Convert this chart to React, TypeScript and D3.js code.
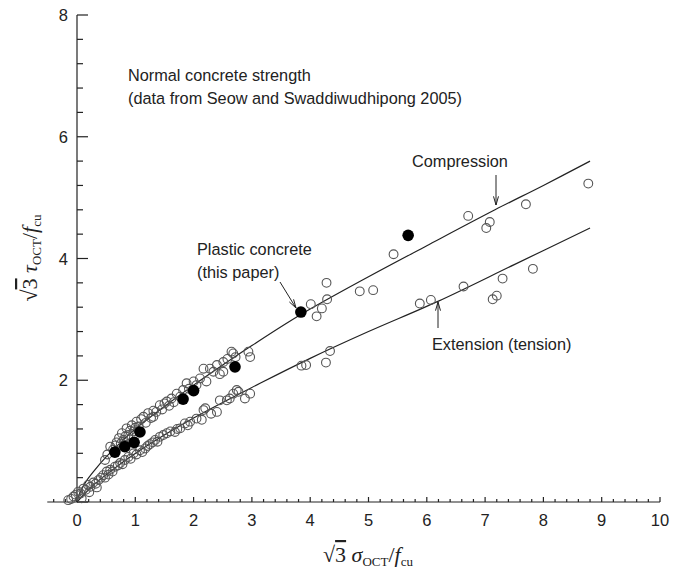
import React from "react";
import * as d3 from "d3";

const W = 673;
const H = 575;

// Compression (upper) fitted curve
const compCurve: [number, number][] = [
  [0, 0.02], [0.05, 0.15], [0.15, 0.33], [0.3, 0.52], [0.5, 0.74], [0.75, 0.98], [1, 1.2],
  [1.5, 1.57], [2, 1.92], [2.5, 2.25], [3, 2.57], [3.84, 3.08], [5, 3.7], [6, 4.21],
  [7.17, 4.8], [8, 5.2], [8.8, 5.6],
];
// Extension (lower) fitted curve
const extCurve: [number, number][] = [
  [0, 0], [0.25, 0.25], [0.5, 0.45], [1.08, 0.85], [2, 1.38], [3.14, 1.95], [4, 2.36], [5, 2.8],
  [6.2, 3.3], [7.5, 3.9], [8.8, 4.5],
];

// Open circles: compression data (Seow and Swaddiwudhipong 2005)
const compOpen: [number, number][] = [
  [0.48, 0.69], [0.52, 0.78], [0.57, 0.91], [0.62, 0.86], [0.66, 0.93], [0.68, 0.98], [0.72, 1.05],
  [0.75, 0.96], [0.77, 1.13], [0.8, 1.02], [0.83, 1.08], [0.85, 1.21], [0.88, 1.1], [0.91, 1.17],
  [0.94, 1.26], [0.97, 1.16], [1.0, 1.22], [1.02, 1.32], [1.06, 1.24], [1.1, 1.36], [1.14, 1.4],
  [1.18, 1.3], [1.22, 1.46], [1.27, 1.38], [1.31, 1.5], [1.31, 1.4], [1.36, 1.48], [1.42, 1.59],
  [1.46, 1.52], [1.5, 1.62], [1.54, 1.65], [1.58, 1.58], [1.62, 1.7], [1.66, 1.64], [1.71, 1.78],
  [1.77, 1.73], [1.82, 1.84], [1.88, 1.95], [1.92, 1.86], [2.0, 1.98], [2.05, 1.92], [2.11, 2.03],
  [2.17, 2.19], [2.22, 1.98], [2.28, 2.19], [2.34, 2.14], [2.4, 2.25], [2.45, 2.1], [2.51, 2.3],
  [2.51, 2.14], [2.58, 2.35], [2.65, 2.47], [2.68, 2.44], [2.72, 2.38], [2.94, 2.47], [2.97, 2.38],
  [4.01, 3.25], [4.11, 3.05], [4.2, 3.18], [4.29, 3.33], [4.28, 3.6], [4.85, 3.46], [5.08, 3.48],
  [5.43, 4.07], [6.71, 4.7], [7.02, 4.5], [7.08, 4.6], [7.7, 4.89], [8.77, 5.23],
];

// Open circles: extension data
const extOpen: [number, number][] = [
  [-0.15, 0.03], [-0.1, 0.05], [-0.06, 0.09], [-0.02, 0.12], [0.02, 0.17], [0.06, 0.14], [0.08, 0.06],
  [0.11, 0.22], [0.15, 0.2], [0.19, 0.28], [0.21, 0.16], [0.23, 0.25], [0.28, 0.32], [0.32, 0.3],
  [0.34, 0.24], [0.37, 0.36], [0.41, 0.4], [0.45, 0.44], [0.48, 0.4], [0.51, 0.5], [0.54, 0.45],
  [0.57, 0.53], [0.61, 0.5], [0.65, 0.58], [0.7, 0.6], [0.74, 0.64], [0.78, 0.62], [0.82, 0.69],
  [0.88, 0.74], [0.92, 0.71], [0.97, 0.8], [1.02, 0.78], [1.08, 0.85], [1.12, 0.82], [1.17, 0.88],
  [1.21, 0.92], [1.25, 0.95], [1.3, 0.98], [1.34, 1.02], [1.38, 0.99], [1.42, 1.07], [1.48, 1.1],
  [1.54, 1.13], [1.6, 1.16], [1.68, 1.15], [1.72, 1.2], [1.77, 1.21], [1.85, 1.29], [1.9, 1.26],
  [1.94, 1.32], [2.05, 1.37], [2.14, 1.35], [2.17, 1.51], [2.2, 1.54], [2.3, 1.45], [2.4, 1.48],
  [2.45, 1.67], [2.57, 1.67], [2.62, 1.7], [2.68, 1.78], [2.74, 1.84], [2.77, 1.81], [2.88, 1.7],
  [2.97, 1.78],
  [3.85, 2.24], [3.93, 2.25], [4.27, 2.29], [4.34, 2.48], [5.88, 3.26], [6.07, 3.32], [6.63, 3.54],
  [7.13, 3.33], [7.2, 3.39], [7.3, 3.67], [7.82, 3.83],
];

// Filled circles: plastic concrete (this paper)
const plastic: [number, number][] = [
  [0.65, 0.82], [0.82, 0.91], [0.98, 0.98], [1.08, 1.15], [1.82, 1.69], [2.0, 1.83], [2.71, 2.22],
  [3.84, 3.12], [5.68, 4.38],
];

const xTickLabels = [0, 1, 2, 3, 4, 5, 6, 7, 8, 9, 10];
const yTickLabels = [2, 4, 6, 8];

export default function App() {
  const x = d3.scaleLinear().domain([0, 10]).range([77, 660]);
  const y = d3.scaleLinear().domain([0, 8]).range([502, 15]);
  const line = d3
    .line<[number, number]>()
    .x((d) => x(d[0]))
    .y((d) => y(d[1]))
    .curve(d3.curveCatmullRom.alpha(0.5));

  const xMinor = d3.range(-0.4, 10.001, 0.2).map((v) => Math.round(v * 10) / 10);
  const yMinor = d3.range(0, 8.001, 0.4).map((v) => Math.round(v * 10) / 10);
  const sans = "Arial, 'Liberation Sans', sans-serif";
  const serif = "'Times New Roman', 'Liberation Serif', serif";
  const ink = "#222";

  const arrowHead = (x1: number, y1: number, x2: number, y2: number) => {
    const a = Math.atan2(y2 - y1, x2 - x1);
    const len = 9;
    const sp = 0.28;
    const p1 = [x2 - len * Math.cos(a - sp), y2 - len * Math.sin(a - sp)];
    const p2 = [x2 - len * Math.cos(a + sp), y2 - len * Math.sin(a + sp)];
    return (
      <g stroke={ink} strokeWidth={1} fill="none">
        <line x1={x1} y1={y1} x2={x2} y2={y2} />
        <polyline points={`${p1[0]},${p1[1]} ${x2},${y2} ${p2[0]},${p2[1]}`} />
      </g>
    );
  };

  return (
    <svg width={W} height={H} style={{ position: "absolute", left: 0, top: 0, background: "#fff" }}>
      {/* axes */}
      <g stroke={ink} strokeWidth={1.2}>
        <line x1={x(-0.51)} x2={x(10)} y1={y(0)} y2={y(0)} />
        <line x1={x(0)} x2={x(0)} y1={y(0)} y2={y(8)} />
        {xMinor.map((v) => {
          const major = Math.abs(v - Math.round(v)) < 1e-6;
          return <line key={"xt" + v} x1={x(v)} x2={x(v)} y1={y(0)} y2={y(0) - (major ? 5 : 3)} />;
        })}
        {yMinor.map((v) => {
          const major = Math.abs(v / 2 - Math.round(v / 2)) < 1e-6;
          return <line key={"yt" + v} x1={x(0)} x2={x(0) + (major ? 11 : 6)} y1={y(v)} y2={y(v)} />;
        })}
      </g>
      <g fontFamily={sans} fontSize={16.5} fill={ink}>
        {xTickLabels.map((v) => (
          <text key={"xl" + v} x={x(v)} y={526} textAnchor="middle">
            {v}
          </text>
        ))}
        {yTickLabels.map((v) => (
          <text key={"yl" + v} x={68} y={y(v) + 6} textAnchor="end">
            {v}
          </text>
        ))}
      </g>

      {/* fitted curves */}
      <path d={line(compCurve) || ""} fill="none" stroke={ink} strokeWidth={1.2} />
      <path d={line(extCurve) || ""} fill="none" stroke={ink} strokeWidth={1.2} />

      {/* data */}
      <g fill="none" stroke="#555" strokeWidth={1.1}>
        {compOpen.map((d, i) => (
          <circle key={"c" + i} cx={x(d[0])} cy={y(d[1])} r={4.4} />
        ))}
        {extOpen.map((d, i) => (
          <circle key={"e" + i} cx={x(d[0])} cy={y(d[1])} r={4.4} />
        ))}
      </g>
      <g fill="#000">
        {plastic.map((d, i) => (
          <circle key={"p" + i} cx={x(d[0])} cy={y(d[1])} r={5.8} />
        ))}
      </g>

      {/* annotations */}
      <g fontFamily={sans} fontSize={16.3} fill={ink}>
        <text x={128} y={81}>Normal concrete strength</text>
        <text x={128} y={104}>(data from Seow and Swaddiwudhipong 2005)</text>
        <text x={412} y={167}>Compression</text>
        <text x={197} y={255}>Plastic concrete</text>
        <text x={197} y={278}>(this paper)</text>
        <text x={432} y={350}>Extension (tension)</text>
      </g>
      {arrowHead(496, 175, 496, 205)}
      {arrowHead(280, 282, 296, 308)}
      {arrowHead(438, 328, 438, 302)}

      {/* axis titles */}
      <text x={368} y={562} textAnchor="middle" fontFamily={serif} fontSize={22} fill={ink}>
        <tspan>√</tspan>
        <tspan style={{ textDecoration: "overline" }}>3</tspan>
        <tspan fontStyle="italic"> σ</tspan>
        <tspan fontSize={13} dy={4}>OCT</tspan>
        <tspan dy={-4}>/</tspan>
        <tspan fontStyle="italic">f</tspan>
        <tspan fontSize={13} dy={4}>cu</tspan>
      </text>
      <text
        transform={`translate(37,258) rotate(-90)`}
        textAnchor="middle"
        fontFamily={serif}
        fontSize={22}
        fill={ink}
      >
        <tspan>√</tspan>
        <tspan style={{ textDecoration: "overline" }}>3</tspan>
        <tspan fontStyle="italic"> τ</tspan>
        <tspan fontSize={13} dy={4}>OCT</tspan>
        <tspan dy={-4}>/</tspan>
        <tspan fontStyle="italic">f</tspan>
        <tspan fontSize={13} dy={4}>cu</tspan>
      </text>
    </svg>
  );
}
